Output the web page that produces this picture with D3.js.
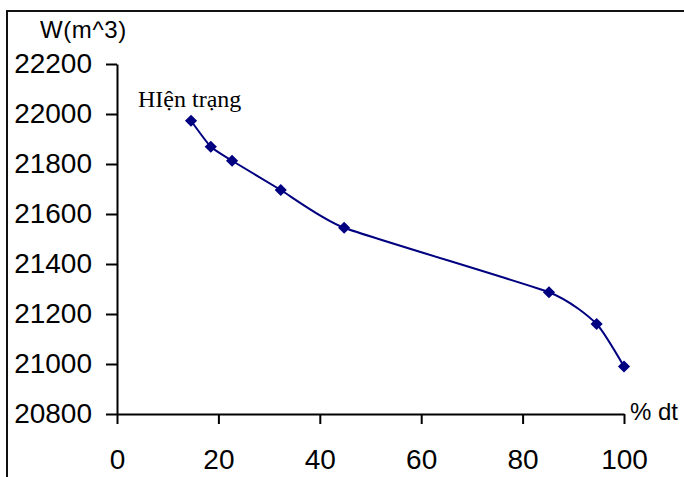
<!DOCTYPE html>
<html>
<head>
<meta charset="utf-8">
<script src="https://cdn.jsdelivr.net/npm/d3@7"></script>
<style>
  html, body { margin: 0; padding: 0; background: #fff; }
  svg { display: block; }
</style>
</head>
<body>
<script>
// Share of area (% dt) vs. volume W (m^3)
const percentDt = [14.6, 18.5, 22.7, 32.3, 44.8, 85.2, 94.6, 100];
const volumeW   = [21973, 21869, 21813, 21696, 21545, 21287, 21160, 20990];
const xTicks = [0, 20, 40, 60, 80, 100];
const yTicks = [20800, 21000, 21200, 21400, 21600, 21800, 22000, 22200];
const currentLabel = "HIện trạng";
const yTitle = "W(m^3)";
const xTitle = "% dt";

const W = 684, H = 477;
const svg = d3.select("body").append("svg").attr("width", W).attr("height", H);

// outer frame (runs off the right and bottom edges)
svg.append("rect")
  .attr("x", 7).attr("y", 11).attr("width", 700).attr("height", 500)
  .attr("fill", "none").attr("stroke", "#111").attr("stroke-width", 2);

const x = d3.scaleLinear().domain([0, 100]).range([117, 624]);
const y = d3.scaleLinear().domain([20800, 22200]).range([414, 64]);

const fontSans = "Arial, 'Liberation Sans', sans-serif";

// y axis
const gy = svg.append("g").attr("transform", `translate(${x(0)},0)`)
  .call(d3.axisLeft(y).tickValues(yTicks).tickFormat(d3.format("d")).tickSize(11).tickSizeOuter(0).tickPadding(14));
gy.select(".domain").attr("stroke", "#000").attr("stroke-width", 2);
gy.selectAll(".tick line").attr("stroke", "#000").attr("stroke-width", 2);
gy.selectAll(".tick text").attr("font-family", fontSans).attr("font-size", 28).attr("fill", "#000");

// x axis
const gx = svg.append("g").attr("transform", `translate(0,${y(20800)})`)
  .call(d3.axisBottom(x).tickValues(xTicks).tickFormat(d3.format("d")).tickSize(10).tickSizeOuter(0).tickPadding(25));
gx.select(".domain").attr("stroke", "#000").attr("stroke-width", 2);
gx.selectAll(".tick line").attr("stroke", "#000").attr("stroke-width", 2);
gx.selectAll(".tick text").attr("font-family", fontSans).attr("font-size", 28).attr("fill", "#000");

// axis titles
svg.append("text").attr("x", 40).attr("y", 38)
  .attr("font-family", fontSans).attr("font-size", 24).attr("letter-spacing", 0.6)
  .attr("fill", "#000").text(yTitle);
svg.append("text").attr("x", 630).attr("y", 420)
  .attr("font-family", fontSans).attr("font-size", 24).attr("fill", "#000").text(xTitle);

// series, lightly smoothed
const data = percentDt.map((v, i) => ({ x: v, y: volumeW[i] }));
const line = d3.line().x(d => x(d.x)).y(d => y(d.y)).curve(d3.curveCardinal.tension(0.5));
svg.append("path").datum(data)
  .attr("d", line).attr("fill", "none").attr("stroke", "#000080").attr("stroke-width", 2);

svg.append("g").selectAll("rect").data(data).join("rect")
  .attr("x", -4.3).attr("y", -4.3).attr("width", 8.6).attr("height", 8.6)
  .attr("transform", d => `translate(${x(d.x)},${y(d.y)}) rotate(45)`)
  .attr("fill", "#000080");

// label for the first point
svg.append("text").attr("x", 138).attr("y", 107)
  .attr("font-family", "'Times New Roman', 'Liberation Serif', serif").attr("font-size", 24)
  .attr("fill", "#000").text(currentLabel);
</script>
</body>
</html>
